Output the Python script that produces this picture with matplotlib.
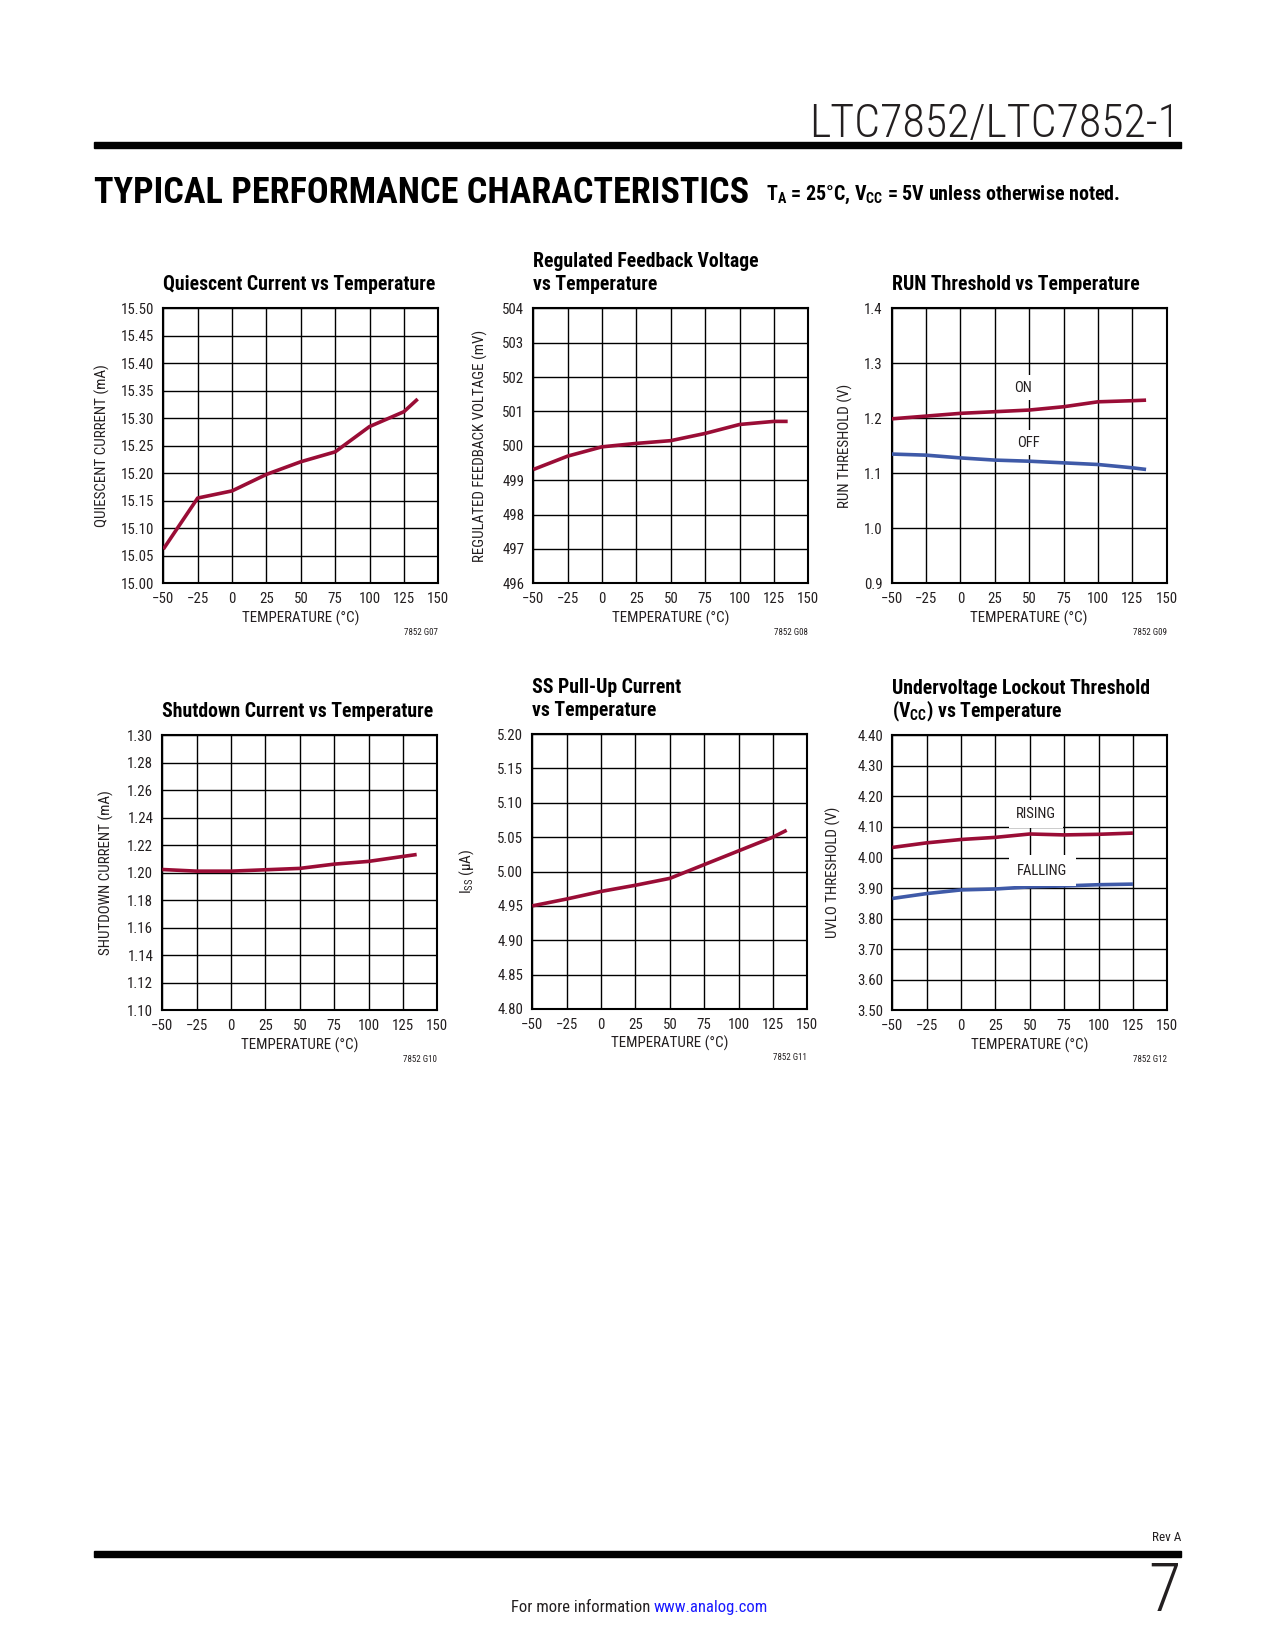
import matplotlib
matplotlib.use("Agg")
import matplotlib.pyplot as plt
from matplotlib.patches import Rectangle

# fonts: narrow sans like the datasheet
NARROW = ['Liberation Sans Narrow', 'Roboto Condensed', 'DejaVu Sans']
plt.rcParams['font.family'] = NARROW
plt.rcParams['mathtext.default'] = 'regular'

RED = '#9a0d36'
BLUE = '#3f5aa8'
INK = '#231f20'

temps = [-50, -25, 0, 25, 50, 75, 100, 125, 135]
temps_uvlo = [-50, -25, 0, 25, 50, 75, 100, 125]

iq = [15.062, 15.155, 15.168, 15.198, 15.221, 15.239, 15.285, 15.312, 15.335]
vfb = [499.31, 499.70, 499.97, 500.07, 500.15, 500.36, 500.62, 500.71, 500.71]
run_on = [1.199, 1.204, 1.209, 1.212, 1.215, 1.221, 1.230, 1.232, 1.233]
run_off = [1.135, 1.133, 1.128, 1.124, 1.122, 1.119, 1.116, 1.110, 1.107]
ishdn = [1.2024, 1.2012, 1.2012, 1.2022, 1.2032, 1.2063, 1.2083, 1.2119, 1.2133]
iss = [4.950, 4.960, 4.971, 4.980, 4.990, 5.010, 5.030, 5.050, 5.060]
uvlo_rise = [4.033, 4.048, 4.059, 4.066, 4.077, 4.074, 4.076, 4.080]
uvlo_fall = [3.866, 3.882, 3.894, 3.897, 3.904, 3.907, 3.911, 3.913]

xticks = [-50, -25, 0, 25, 50, 75, 100, 125, 150]

W, H = 1275.0, 1650.0
fig = plt.figure(figsize=(W / 100, H / 100), dpi=100)


def fx(x):
    return x / W


def fy(y):
    return 1 - y / H


def ftext(x, y, s, **kw):
    fig.text(fx(x), fy(y), s, **kw)


def panel(left, top, title, ylabel, ylab_x, yticks, yfmt, gid, series):
    ax = fig.add_axes([fx(left), fy(top + 275), 275 / W, 275 / H])
    for x, y, c in series:
        ax.plot(x, y, color=c, lw=2.6, solid_capstyle='butt', zorder=3)
    ax.set_xlim(-50, 150)
    ax.set_ylim(yticks[0], yticks[-1])
    ax.set_xticks(xticks)
    ax.set_yticks(yticks)
    ax.set_yticklabels([yfmt % v for v in yticks])
    ax.grid(True, color='black', lw=1.0)
    ax.set_axisbelow(True)
    for s in ax.spines.values():
        s.set_linewidth(1.5)
    ax.tick_params(length=0, labelsize=10.7, labelcolor=INK, pad=6.5)
    # title lines
    lines = title.split('\n')
    for i, ln in enumerate(lines[::-1]):
        ftext(left, top - 18 - 23 * i, ln, fontsize=14.2, fontweight='bold',
              ha='left', va='baseline', color='black')
    ftext(ylab_x, top + 137.5, ylabel, rotation=90, ha='center', va='center',
          fontsize=10.8, color=INK)
    ftext(left + 137.5, top + 314, 'TEMPERATURE (°C)', ha='center',
          va='baseline', fontsize=10.8, color=INK)
    ftext(left + 275, top + 324, gid, ha='right', va='center', fontsize=6.5,
          color=INK)
    return ax


panel(163.3, 308.3, 'Quiescent Current vs Temperature',
      'QUIESCENT CURRENT (mA)', 102,
      [15.00, 15.05, 15.10, 15.15, 15.20, 15.25, 15.30, 15.35, 15.40, 15.45, 15.50],
      '%.2f', '7852 G07', [(temps, iq, RED)])

panel(533.3, 308.3, 'Regulated Feedback Voltage\nvs Temperature',
      'REGULATED FEEDBACK VOLTAGE (mV)', 480,
      [496, 497, 498, 499, 500, 501, 502, 503, 504],
      '%d', '7852 G08', [(temps, vfb, RED)])

ax3 = panel(891.7, 308.3, 'RUN Threshold vs Temperature',
            'RUN THRESHOLD (V)', 845,
            [0.9, 1.0, 1.1, 1.2, 1.3, 1.4],
            '%.1f', '7852 G09', [(temps, run_on, RED), (temps, run_off, BLUE)])
ax3.text(45.3, 1.256, 'ON', ha='center', va='center', fontsize=10.5, color=INK,
         bbox=dict(fc='white', ec='none', pad=4), zorder=4)
ax3.text(49.4, 1.156, 'OFF', ha='center', va='center', fontsize=10.5, color=INK,
         bbox=dict(fc='white', ec='none', pad=4), zorder=4)

panel(162.3, 735.3, 'Shutdown Current vs Temperature',
      'SHUTDOWN CURRENT (mA)', 106,
      [1.10, 1.12, 1.14, 1.16, 1.18, 1.20, 1.22, 1.24, 1.26, 1.28, 1.30],
      '%.2f', '7852 G10', [(temps, ishdn, RED)])

panel(532.3, 734.0, 'SS Pull-Up Current\nvs Temperature',
      'I$_{SS}$ (μA)', 467,
      [4.80, 4.85, 4.90, 4.95, 5.00, 5.05, 5.10, 5.15, 5.20],
      '%.2f', '7852 G11', [(temps, iss, RED)])

ax6 = panel(892.3, 735.3, 'Undervoltage Lockout Threshold\n(V$_{CC}$) vs Temperature',
            'UVLO THRESHOLD (V)', 833,
            [3.50, 3.60, 3.70, 3.80, 3.90, 4.00, 4.10, 4.20, 4.30, 4.40],
            '%.2f', '7852 G12', [(temps_uvlo, uvlo_rise, RED), (temps_uvlo, uvlo_fall, BLUE)])
ax6.text(54.5, 4.141, 'RISING', ha='center', va='center', fontsize=10.5, color=INK,
         bbox=dict(fc='white', ec='none', pad=5), zorder=4)
ax6.text(59.1, 3.957, 'FALLING', ha='center', va='center', fontsize=10.5, color=INK,
         bbox=dict(fc='white', ec='none', pad=6), zorder=4)

# page header
ftext(1180, 137, 'LTC7852/LTC7852-1', ha='right', va='baseline', fontsize=33,
      fontweight='light', color=INK)
fig.add_artist(Rectangle((fx(94), fy(148)), fx(1181) - fx(94), 6 / H,
                         transform=fig.transFigure, color='black'))
ftext(94, 203, 'TYPICAL PERFORMANCE CHARACTERISTICS', ha='left', va='baseline',
      fontsize=26, fontweight='heavy', color='black')
ftext(766, 200, 'T$_A$ = 25°C, V$_{CC}$ = 5V unless otherwise noted.', ha='left',
      va='baseline', fontsize=14.4, fontweight='bold', color='black')

# page footer
ftext(1181, 1541, 'Rev A', ha='right', va='baseline', fontsize=9.5, color=INK)
fig.add_artist(Rectangle((fx(94), fy(1557)), fx(1181) - fx(94), 6 / H,
                         transform=fig.transFigure, color='black'))
ftext(1181, 1611, '7', ha='right', va='baseline', fontsize=48,
      fontweight='light', color=INK)
ftext(654, 1612, 'For more information ', ha='right', va='baseline',
      fontsize=12, color=INK)
ftext(654, 1612, 'www.analog.com', ha='left', va='baseline', fontsize=12,
      color='#1a1aff')

fig.savefig('out.png', dpi=100)
